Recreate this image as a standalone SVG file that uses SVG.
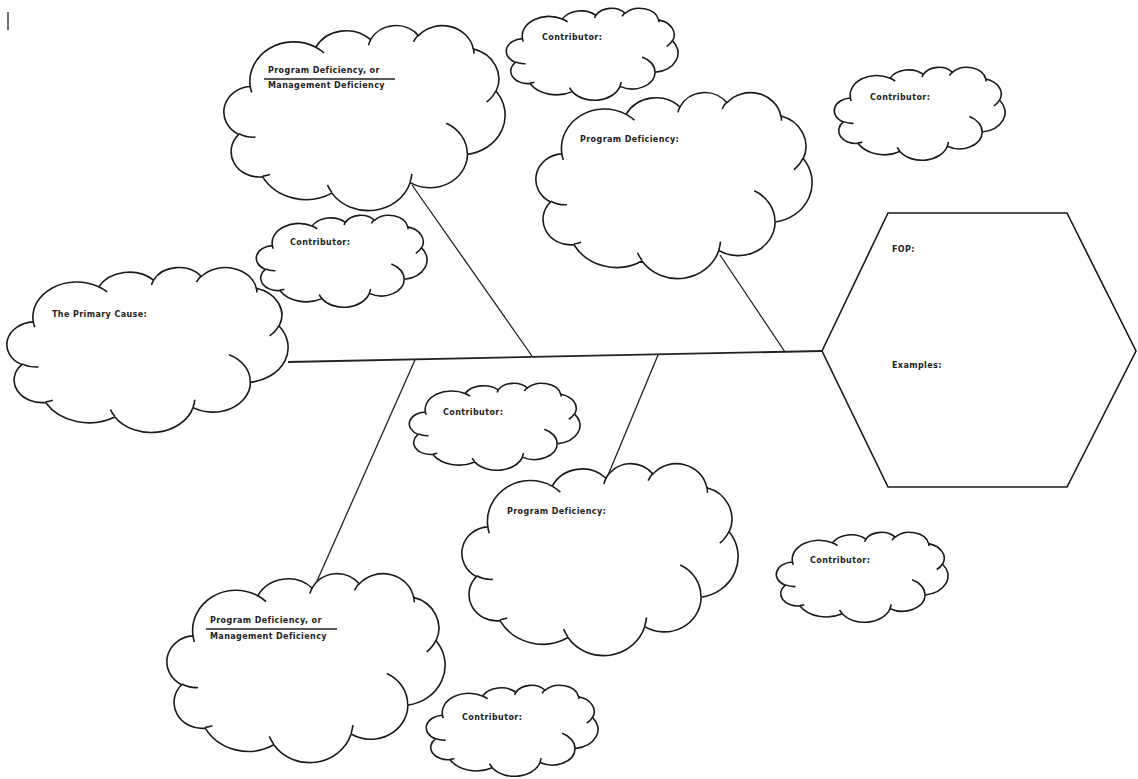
<svg xmlns="http://www.w3.org/2000/svg" xmlns:xlink="http://www.w3.org/1999/xlink" width="1138" height="779" viewBox="0 0 1138 779">
<style>
.bg{fill:#fff}
.cl{fill:#fff;stroke:#1a1a1a;stroke-width:1.6;vector-effect:non-scaling-stroke;stroke-linejoin:round}
.tk{fill:none;stroke:#1a1a1a;stroke-width:1.6;vector-effect:non-scaling-stroke}
.ln{stroke:#222;stroke-width:1.3;fill:none}
.spine{stroke:#222;stroke-width:1.8;fill:none}
.hex{fill:#fff;stroke:#1a1a1a;stroke-width:1.6}
.t{font-family:"DejaVu Sans","Liberation Sans",sans-serif;font-size:8px;font-weight:bold;fill:#222;letter-spacing:0.4px}
.ul{stroke:#222;stroke-width:1.4}
</style>
<defs>
<g id="cloud">
<path class="cl" d="M 9.03 33.26 A 15.63 21.27 0 0 1 32.42 12.04 A 12.35 16.82 0 0 1 51.99 7.94 A 10.10 13.76 0 0 1 69.06 5.74 A 11.24 15.27 0 0 1 88.69 12.91 A 12.35 16.84 0 0 1 96.80 35.80 A 15.68 21.34 0 0 1 86.59 69.92 A 13.39 18.21 0 0 1 66.10 85.21 A 15.63 21.33 0 0 1 38.17 90.89 A 17.87 24.41 0 0 1 13.45 82.10 A 10.09 13.70 0 0 1 4.90 59.13 A 10.06 13.76 0 0 1 9.03 33.26 Z"/>
<path class="tk" d="M 10.86 60.60 A 10.06 13.76 0 0 1 5.00 58.75 M 16.04 80.79 A 10.09 13.70 0 0 1 13.48 81.68 M 38.14 90.49 A 15.63 21.33 0 0 1 36.58 86.44 M 66.73 80.44 A 15.63 21.33 0 0 1 66.10 84.88 M 79.00 53.13 A 13.39 18.21 0 0 1 86.52 69.65 M 96.75 35.54 A 12.35 16.84 0 0 1 93.40 41.73 M 88.71 12.56 A 11.24 15.27 0 0 1 88.89 15.48 M 67.31 9.15 A 11.24 15.27 0 0 1 69.03 5.41 M 51.25 10.93 A 10.10 13.76 0 0 1 52.08 7.71 M 32.41 12.02 A 15.63 21.27 0 0 1 35.42 15.14 M 9.55 36.55 A 15.63 21.27 0 0 1 9.02 33.26"/>
</g>
</defs>
<rect class="bg" x="0" y="0" width="1138" height="779"/>
<line class="ln" x1="8" y1="12" x2="8" y2="30"/>
<g id="connectors">
<line class="spine" x1="288" y1="362" x2="822" y2="351"/>
<line class="ln" x1="412" y1="185" x2="532" y2="356"/>
<line class="ln" x1="720" y1="255" x2="785" y2="352"/>
<line class="ln" x1="415" y1="360" x2="313" y2="590"/>
<line class="ln" x1="658" y1="355" x2="606" y2="480"/>
</g>
<g id="cloud-a">
<use xlink:href="#cloud" transform="translate(225,25) scale(2.80,1.85)"/>
<text class="t" x="268" y="73">Program Deficiency, or</text>
<line class="ul" x1="264" y1="79" x2="395" y2="79"/>
<text class="t" x="268" y="88">Management Deficiency</text>
</g>
<g id="cloud-b">
<use xlink:href="#cloud" transform="translate(507,8) scale(1.71,0.92)"/>
<text class="t" x="542" y="40">Contributor:</text>
</g>
<g id="cloud-c">
<use xlink:href="#cloud" transform="translate(537,92) scale(2.75,1.86)"/>
<text class="t" x="580" y="142">Program Deficiency:</text>
</g>
<g id="cloud-d">
<use xlink:href="#cloud" transform="translate(835,67) scale(1.70,0.93)"/>
<text class="t" x="870" y="100">Contributor:</text>
</g>
<g id="hexagon">
<polygon class="hex" points="822,351 888,213 1067,213 1136,351 1067,487 888,487"/>
<text class="t" x="892" y="252">FOP:</text>
<text class="t" x="892" y="368">Examples:</text>
</g>
<g id="cloud-e">
<use xlink:href="#cloud" transform="translate(257,215) scale(1.70,0.92)"/>
<text class="t" x="290" y="245">Contributor:</text>
</g>
<g id="cloud-f">
<use xlink:href="#cloud" transform="translate(8,267) scale(2.80,1.65)"/>
<text class="t" x="52" y="317">The Primary Cause:</text>
</g>
<g id="cloud-g">
<use xlink:href="#cloud" transform="translate(410,383) scale(1.70,0.87)"/>
<text class="t" x="443" y="415">Contributor:</text>
</g>
<g id="cloud-h">
<use xlink:href="#cloud" transform="translate(463,463) scale(2.75,1.92)"/>
<text class="t" x="507" y="514">Program Deficiency:</text>
</g>
<g id="cloud-i">
<use xlink:href="#cloud" transform="translate(777,532) scale(1.71,0.90)"/>
<text class="t" x="810" y="563">Contributor:</text>
</g>
<g id="cloud-j">
<use xlink:href="#cloud" transform="translate(168,573) scale(2.77,1.89)"/>
<text class="t" x="210" y="623">Program Deficiency, or</text>
<line class="ul" x1="206" y1="629" x2="337" y2="629"/>
<text class="t" x="210" y="639">Management Deficiency</text>
</g>
<g id="cloud-k">
<use xlink:href="#cloud" transform="translate(427,685) scale(1.71,0.91)"/>
<text class="t" x="462" y="720">Contributor:</text>
</g>
</svg>
